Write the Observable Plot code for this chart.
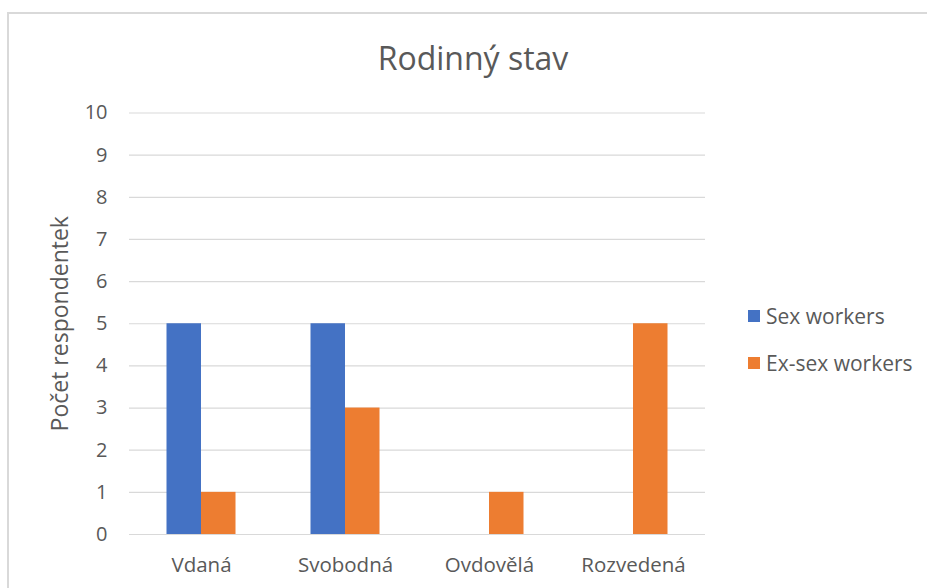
<!DOCTYPE html>
<html>
<head>
<meta charset="utf-8">
<script src="https://cdn.jsdelivr.net/npm/d3@7"></script>
<script src="https://cdn.jsdelivr.net/npm/@observablehq/plot@0.6"></script>
<style>
  html, body { margin: 0; padding: 0; background: #fff; overflow: hidden; }
  #wrap { position: relative; width: 927px; height: 588px; overflow: hidden; font-family: "Open Sans", sans-serif; }
  #frame { position: absolute; left: 7px; top: 12px; width: 1000px; height: 1000px; border: 2px solid #d9d9d9; box-sizing: border-box; }
  #title { position: absolute; left: 0; width: 946px; top: 42px; text-align: center; font-size: 32px; color: #595959; line-height: 1; white-space: nowrap; }
  #chart { position: absolute; left: 0; top: 0; }
  #legend { position: absolute; left: 748px; top: 302px; font-size: 21px; color: #595959; }
  .item { display: flex; align-items: center; height: 28px; margin-bottom: 18.5px; white-space: nowrap; }
  .sw { width: 12px; height: 12px; margin-right: 6px; flex: none; }
</style>
</head>
<body>
<div id="wrap">
  <div id="frame"></div>
  <div id="title">Rodinný stav</div>
  <div id="chart"></div>
  <div id="legend"></div>
</div>
<script>
const categories = ["Vdaná", "Svobodná", "Ovdovělá", "Rozvedená"];
const seriesNames = ["Sex workers", "Ex-sex workers"];
const sexWorkers = [5, 5, 0, 0];
const exSexWorkers = [1, 3, 1, 5];
const yTicks = [0, 1, 2, 3, 4, 5, 6, 7, 8, 9, 10];
const seriesColors = ["#4472C4", "#ED7D31"];
const yLabel = "Počet respondentek";

const rows = [];
categories.forEach((c, i) => {
  rows.push({cat: c, series: seriesNames[0], value: sexWorkers[i]});
  rows.push({cat: c, series: seriesNames[1], value: exSexWorkers[i]});
});
const blue = rows.filter(d => d.series === seriesNames[0] && d.value > 0);
const orange = rows.filter(d => d.series === seriesNames[1] && d.value > 0);

const outer = 37.5, half = 72;

const chart = Plot.plot({
  width: 927,
  height: 588,
  marginTop: 112.5,
  marginBottom: 54,
  marginLeft: 129,
  marginRight: 222,
  style: {fontFamily: "Open Sans, sans-serif", fontSize: "18px", color: "#595959", background: "transparent"},
  x: {domain: categories, padding: 0, label: null},
  y: {domain: [0, 10], ticks: yTicks, label: null},
  color: {domain: seriesNames, range: seriesColors},
  marks: [
    Plot.ruleY(yTicks, {stroke: "#d9d9d9", strokeWidth: 1.2}),
    Plot.barY(blue, {x: "cat", y: "value", fill: "series", insetLeft: outer, insetRight: half}),
    Plot.barY(orange, {x: "cat", y: "value", fill: "series", insetLeft: half, insetRight: outer}),
    Plot.axisX({tickSize: 0, tickPadding: 23, fontSize: 20.5, fill: "#595959", label: null}),
    Plot.axisY(yTicks, {tickSize: 0, tickPadding: 22, fontSize: 20, fill: "#595959", label: null}),
    Plot.text([yLabel], {frameAnchor: "left", textAnchor: "middle", rotate: -90, dx: -69, fontSize: 23, fill: "#595959"})
  ]
});
document.getElementById("chart").appendChild(chart);

const legend = document.getElementById("legend");
seriesNames.forEach((s, i) => {
  const item = document.createElement("div");
  item.className = "item";
  const sw = document.createElement("div");
  sw.className = "sw";
  sw.style.background = seriesColors[i];
  const t = document.createElement("span");
  t.textContent = s;
  item.appendChild(sw);
  item.appendChild(t);
  legend.appendChild(item);
});
</script>
</body>
</html>
